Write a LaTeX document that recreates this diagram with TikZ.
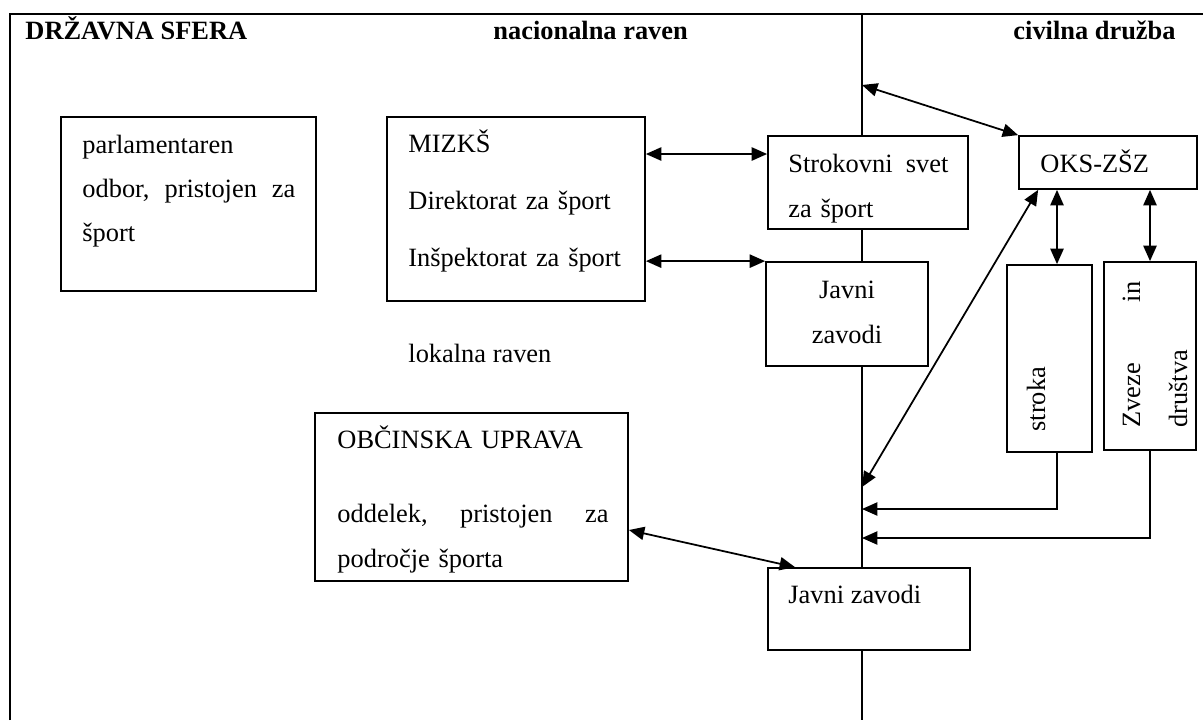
\documentclass[tikz,border=0pt]{standalone}
\usepackage{fontspec}
\setmainfont{Liberation Serif}
\usetikzlibrary{arrows.meta, fit, calc}

\begin{document}
\begin{tikzpicture}[x=0.4545pt, y=-0.4545pt,
    box/.style={draw, line width=0.8pt, fill=white, inner sep=0pt},
    txt/.style={inner sep=0pt, anchor=base west, font=\fontsize{12}{20.5}\selectfont},
    dbl/.style={line width=0.8pt, {Triangle[length=7pt,width=6pt]}-{Triangle[length=7pt,width=6pt]}},
    sgl/.style={line width=0.8pt, -{Triangle[length=7pt,width=6pt]}}]
    \useasboundingbox (0,0) rectangle (1203,720);

    % Draw the frame and the border between the two spheres
    \draw[line width=0.9pt] (10,720) -- (10,14) -- (1203,14);
    \draw[line width=0.8pt] (862,14) -- (862,720);
    \coordinate (d1) at (862,85);
    \coordinate (d2) at (862,487);
    \coordinate (d3) at (862,509);
    \coordinate (d4) at (862,538);

    % Headings
    \node[txt, font=\fontsize{12}{14}\selectfont\bfseries] (drzavna) at (25,39) {DRŽAVNA SFERA};
    \node[txt, font=\fontsize{12}{14}\selectfont\bfseries] (nacionalna) at (493,39) {nacionalna raven};
    \node[txt, font=\fontsize{12}{14}\selectfont\bfseries] (civilna) at (1013,39) {civilna družba};

    % National level
    \node[box, fit={(61,117) (316,291)}] (parl) {};
    \node[txt, text width=96.8pt, align=left, font=\fontsize{12}{20.2}\selectfont] (parltxt) at (82,153)
        {parlamentaren\\\makebox[96.8pt][s]{odbor,\hfill pristojen\hfill za}\\šport};

    \node[box, fit={(387,117) (645,301)}] (mizks) {};
    \node[txt, text width=100pt, align=left, font=\fontsize{12}{26.1}\selectfont] (mizkstxt) at (408,152)
        {MIZKŠ\\Direktorat za šport\\Inšpektorat za šport};

    \node[box, fit={(768,136) (968,229)}] (svet) {};
    \node[txt, text width=72.7pt, align=left] (svettxt) at (788,172)
        {\makebox[72.7pt][s]{Strokovni\hfill svet}\\za šport};

    \node[box, fit={(766,262) (928,366)}] (javni) {};
    \node[txt, anchor=base, text width=60pt, align=center] (javnitxt) at (847,298) {Javni\\zavodi};

    % Civil society
    \node[box, fit={(1019,136) (1197,189)}] (oks) {};
    \node[txt] (okstxt) at (1040,172) {OKS-ZŠZ};

    \node[box, fit={(1007,265) (1092,452)}] (stroka) {};
    \node[txt, rotate=90] (strokatxt) at (1045,432) {stroka};

    \node[box, fit={(1104,262) (1196,450)}] (zveze) {};
    \node[txt, rotate=90, text width=66.4pt, align=left, font=\fontsize{12}{21.4}\selectfont] (zvezetxt) at (1140,428)
        {\makebox[66.4pt][s]{Zveze\hfill in}\\društva};

    % Local level
    \node[txt] (lokalna) at (408,362) {lokalna raven};

    \node[box, fit={(315,413) (628,581)}] (obcina) {};
    \node[txt, text width=123.2pt, align=left] (obcinatxt) at (337,448)
        {OBČINSKA UPRAVA\\[13.2pt]\makebox[123.2pt][s]{oddelek,\hfill pristojen\hfill za}\\področje športa};

    \node[box, fit={(768,568) (970,650)}] (zavodi) {};
    \node[txt] (zavoditxt) at (788,603) {Javni zavodi};

    % Connections
    \draw[dbl] (d1) -- (oks.north west);
    \draw[dbl] (mizks.east |- 0,154) -- (svet.west |- 0,154);
    \draw[dbl] (mizks.east |- javni.north west) -- (javni.north west);
    \draw[dbl] ($(oks.south west)+(20,0)$) -- (d2);
    \draw[dbl] (oks.south -| 1057,0) -- (stroka.north -| 1057,0);
    \draw[dbl] (oks.south -| zveze.north) -- (zveze.north);
    \draw[sgl] (stroka.south -| 1057,0) |- (d3);
    \draw[sgl] (zveze.south) |- (d4);
    \draw[dbl] (obcina.east |- 0,530) -- (zavodi.north -| 795,0);
\end{tikzpicture}
\end{document}
